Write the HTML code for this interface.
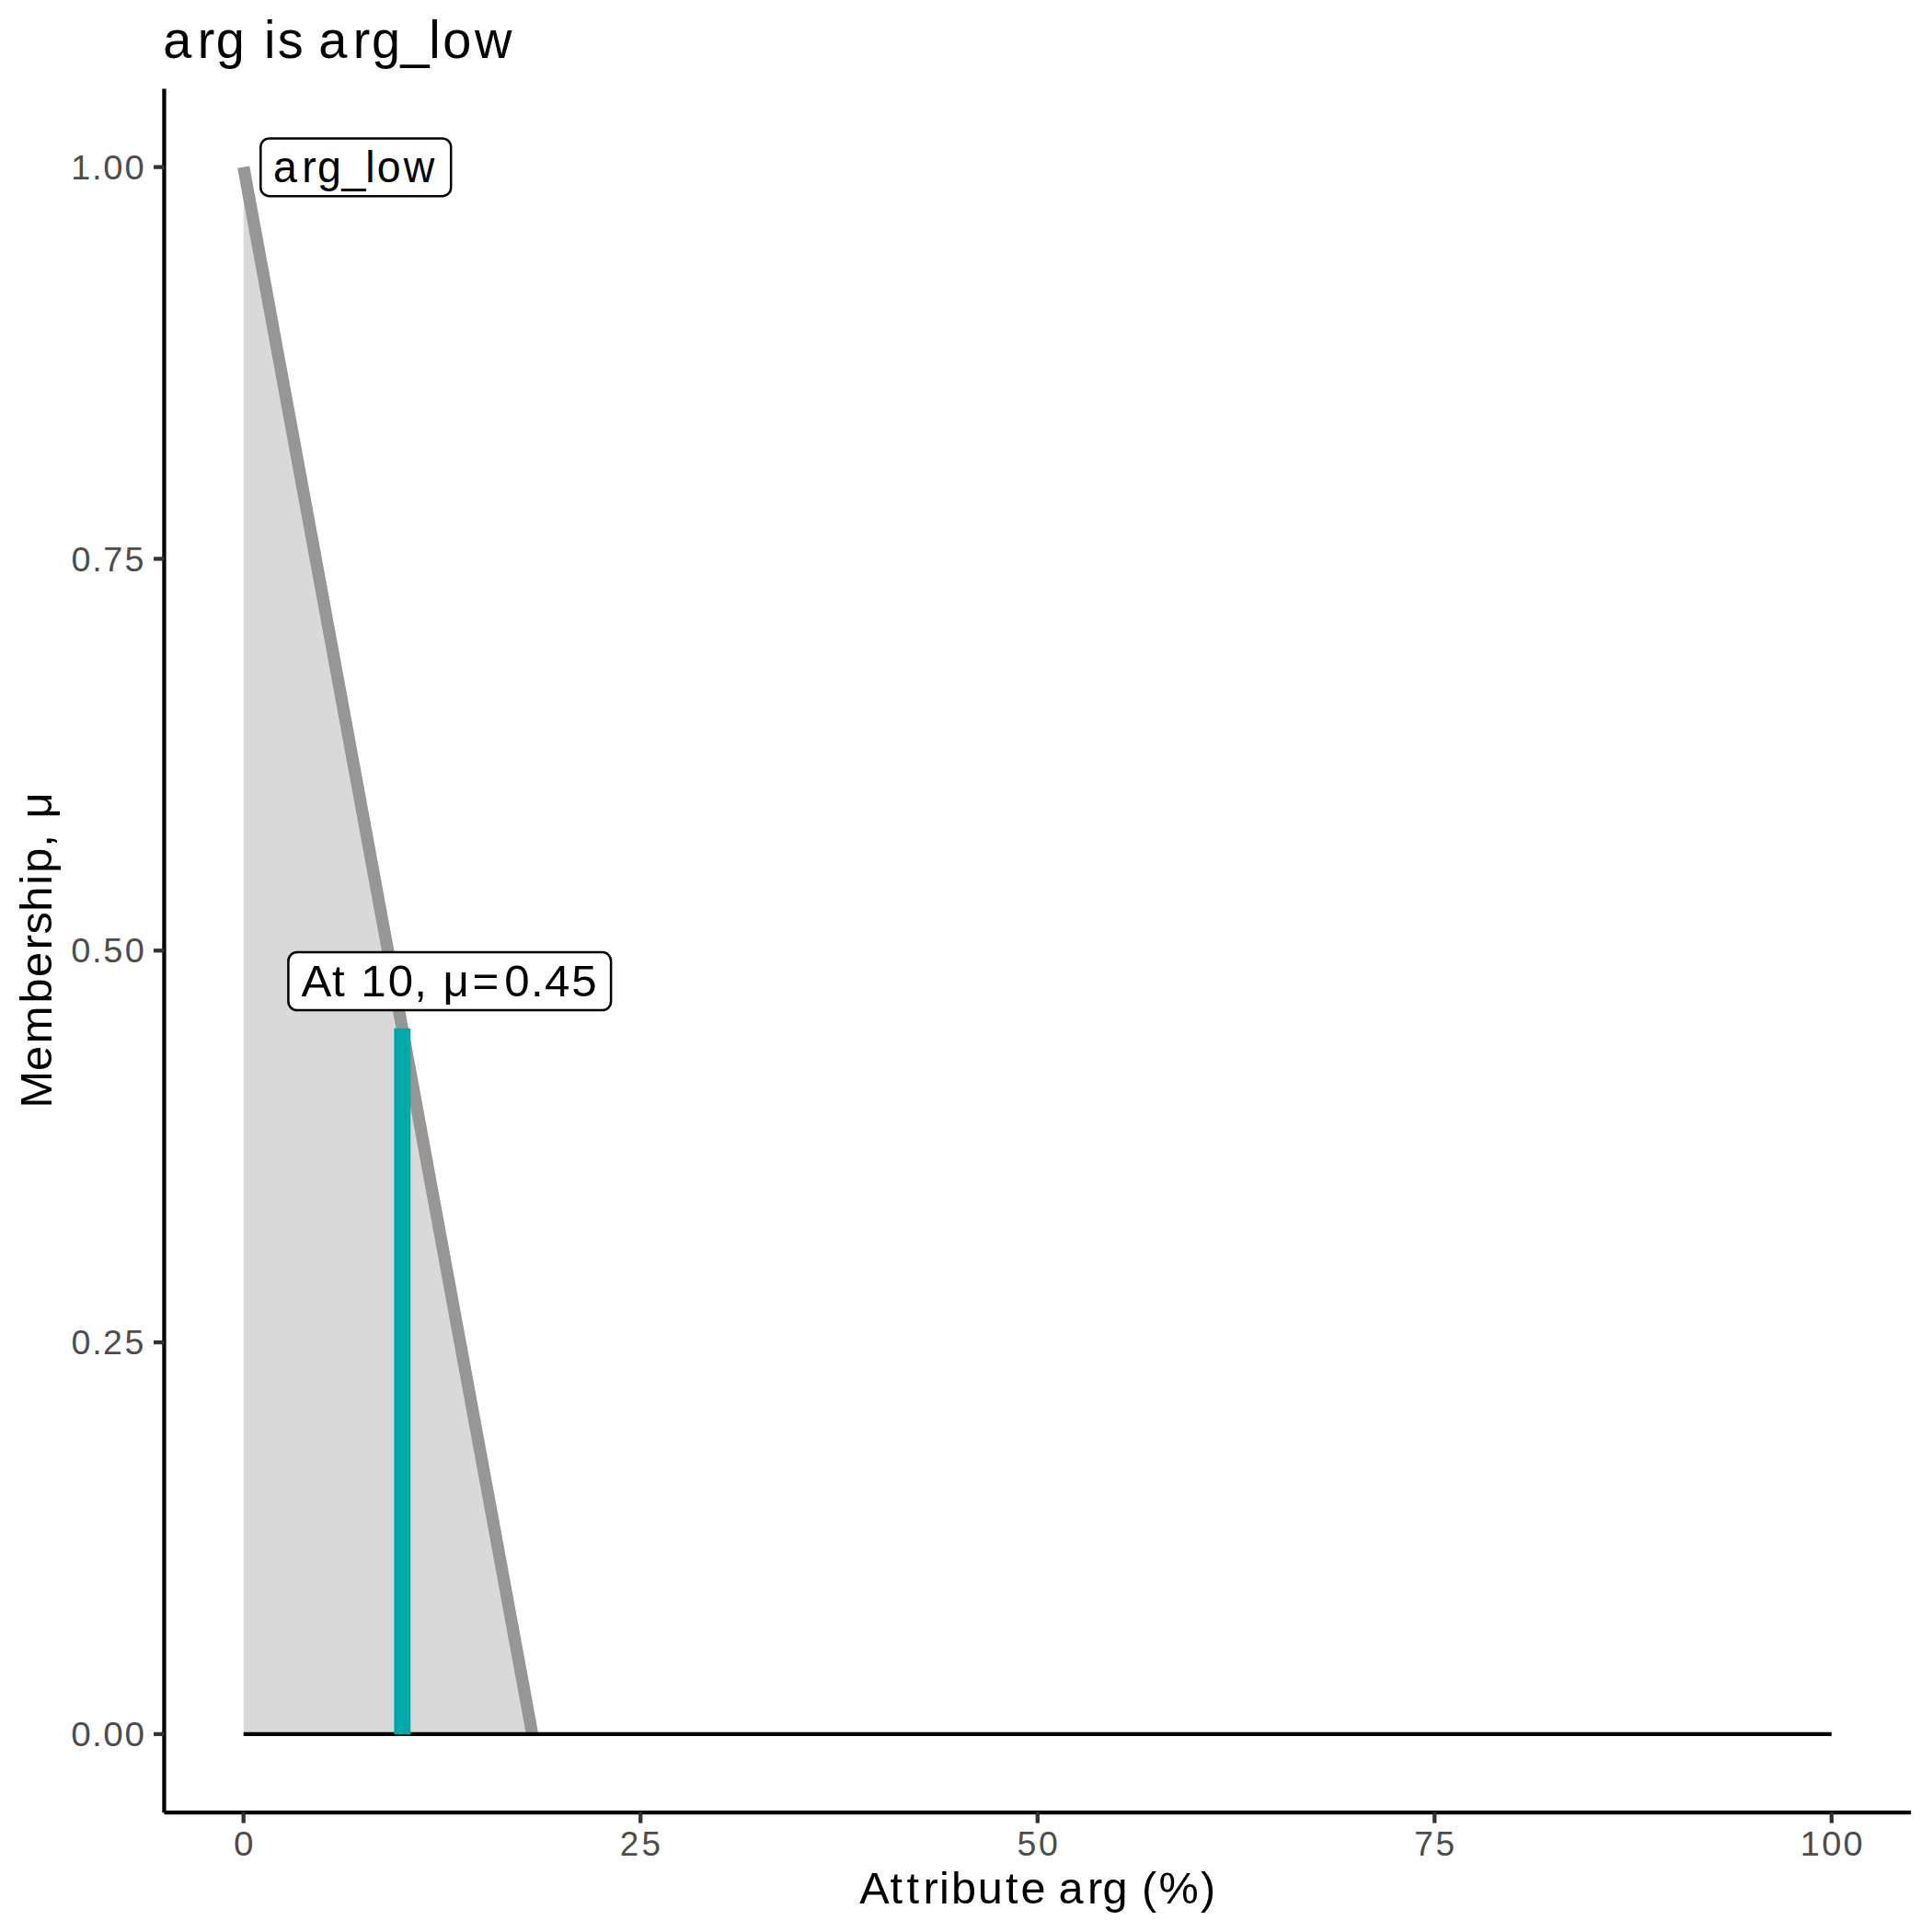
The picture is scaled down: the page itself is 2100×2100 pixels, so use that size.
<!DOCTYPE html>
<html><head><meta charset="utf-8"><style>
html,body{margin:0;padding:0;background:#fff;width:2100px;height:2100px;overflow:hidden}
svg{display:block}
text{font-family:"Liberation Sans",sans-serif}
</style></head><body>
<svg width="2100" height="2100" viewBox="0 0 2100 2100">
<rect width="2100" height="2100" fill="#fff"/>
<polygon points="264.70,1884.90 264.70,181.60 578.55,1884.90" fill="#D9D9D9"/>
<line x1="264.70" y1="181.60" x2="578.55" y2="1884.90" stroke="#969696" stroke-width="13.3"/>
<line x1="264.70" y1="1884.90" x2="1990.85" y2="1884.90" stroke="#000" stroke-width="4.3"/>
<line x1="437.31" y1="1884.90" x2="437.31" y2="1117.8" stroke="#00A9A9" stroke-width="17.9"/>
<line x1="178.45" y1="96.4" x2="178.45" y2="1970.2" stroke="#000" stroke-width="4.3"/>
<line x1="178.45" y1="1970.2" x2="2077.2" y2="1970.2" stroke="#000" stroke-width="4.3"/>
<line x1="167.03" y1="1884.90" x2="178.45" y2="1884.90" stroke="#333333" stroke-width="4.3"/>
<line x1="167.03" y1="1459.08" x2="178.45" y2="1459.08" stroke="#333333" stroke-width="4.3"/>
<line x1="167.03" y1="1033.25" x2="178.45" y2="1033.25" stroke="#333333" stroke-width="4.3"/>
<line x1="167.03" y1="607.42" x2="178.45" y2="607.42" stroke="#333333" stroke-width="4.3"/>
<line x1="167.03" y1="181.60" x2="178.45" y2="181.60" stroke="#333333" stroke-width="4.3"/>
<line x1="264.70" y1="1970.20" x2="264.70" y2="1981.62" stroke="#333333" stroke-width="4.3"/>
<line x1="696.24" y1="1970.20" x2="696.24" y2="1981.62" stroke="#333333" stroke-width="4.3"/>
<line x1="1127.78" y1="1970.20" x2="1127.78" y2="1981.62" stroke="#333333" stroke-width="4.3"/>
<line x1="1559.31" y1="1970.20" x2="1559.31" y2="1981.62" stroke="#333333" stroke-width="4.3"/>
<line x1="1990.85" y1="1970.20" x2="1990.85" y2="1981.62" stroke="#333333" stroke-width="4.3"/>
<text x="75.82 98.43 110.42 133.37" y="0" transform="translate(0,194.70) scale(1.0167,1)" font-size="37.59" fill="#4D4D4D">1.00</text>
<text x="77.01 99.63 111.75 134.89" y="0" transform="translate(0,620.52) scale(1.0051,1)" font-size="37.59" fill="#4D4D4D">0.75</text>
<text x="76.40 98.90 110.83 134.02" y="0" transform="translate(0,1046.35) scale(1.0121,1)" font-size="37.59" fill="#4D4D4D">0.50</text>
<text x="77.40 100.10 111.88 135.54" y="0" transform="translate(0,1472.17) scale(1.0006,1)" font-size="37.59" fill="#4D4D4D">0.25</text>
<text x="74.89 97.08 108.85 131.50" y="0" transform="translate(0,1898.00) scale(1.0301,1)" font-size="37.59" fill="#4D4D4D">0.00</text>
<text x="246.92" y="0" transform="translate(0,2016.80) scale(1.0284,1)" font-size="37.59" fill="#4D4D4D">0</text>
<text x="687.07 711.20" y="0" transform="translate(0,2016.80) scale(0.9807,1)" font-size="37.59" fill="#4D4D4D">25</text>
<text x="1105.92 1129.40" y="0" transform="translate(0,2016.80) scale(0.9996,1)" font-size="37.59" fill="#4D4D4D">50</text>
<text x="1556.04 1579.58" y="0" transform="translate(0,2016.80) scale(0.9879,1)" font-size="37.59" fill="#4D4D4D">75</text>
<text x="1929.57 1952.76 1975.77" y="0" transform="translate(0,2016.80) scale(1.0141,1)" font-size="37.59" fill="#4D4D4D">100</text>
<text x="183.17 221.96 242.74 278.23 296.80 311.85 341.72 358.04 396.84 417.62 450.35 482.00 497.66 533.47" y="0" transform="translate(0,63.00) scale(0.9673,1)" font-size="57.75" fill="#000">arg is arg_low</text>
<text x="923.77 956.61 974.38 992.23 1009.67 1022.57 1050.94 1080.85 1097.19 1124.94 1137.61 1168.76 1185.17 1213.71 1227.21 1245.42 1290.39" y="0" transform="translate(0,2068.50) scale(1.0113,1)" font-size="48.12" fill="#000">Attribute arg (%)</text>
<text x="-1189.16 -1148.99 -1119.66 -1076.45 -1048.36 -1019.01 -1002.47 -978.00 -949.35 -936.48 -908.98 -894.13 -878.21" y="0" transform="translate(55.90,0) rotate(-90) scale(1.0130,1)" font-size="48.12" fill="#000">Membership, μ</text>
<rect x="283.3" y="150.45" width="206.9" height="62.75" rx="9.5" ry="9.5" fill="#fff" stroke="#000" stroke-width="2.5"/>
<text x="308.36 340.93 358.41 385.92 412.47 425.66 455.76" y="0" transform="translate(0,198.30) scale(0.9629,1)" font-size="48.30" fill="#000">arg_low</text>
<rect x="313.4" y="1035.1" width="350.7" height="63" rx="9.5" ry="9.5" fill="#fff" stroke="#000" stroke-width="2.5"/>
<text x="324.48 357.57 373.87 388.55 417.79 445.86 460.80 476.78 508.66 542.90 571.41 586.37 615.18" y="0" transform="translate(0,1083.40) scale(1.0097,1)" font-size="48.76" fill="#000">At 10, μ=0.45</text>
</svg></body></html>
